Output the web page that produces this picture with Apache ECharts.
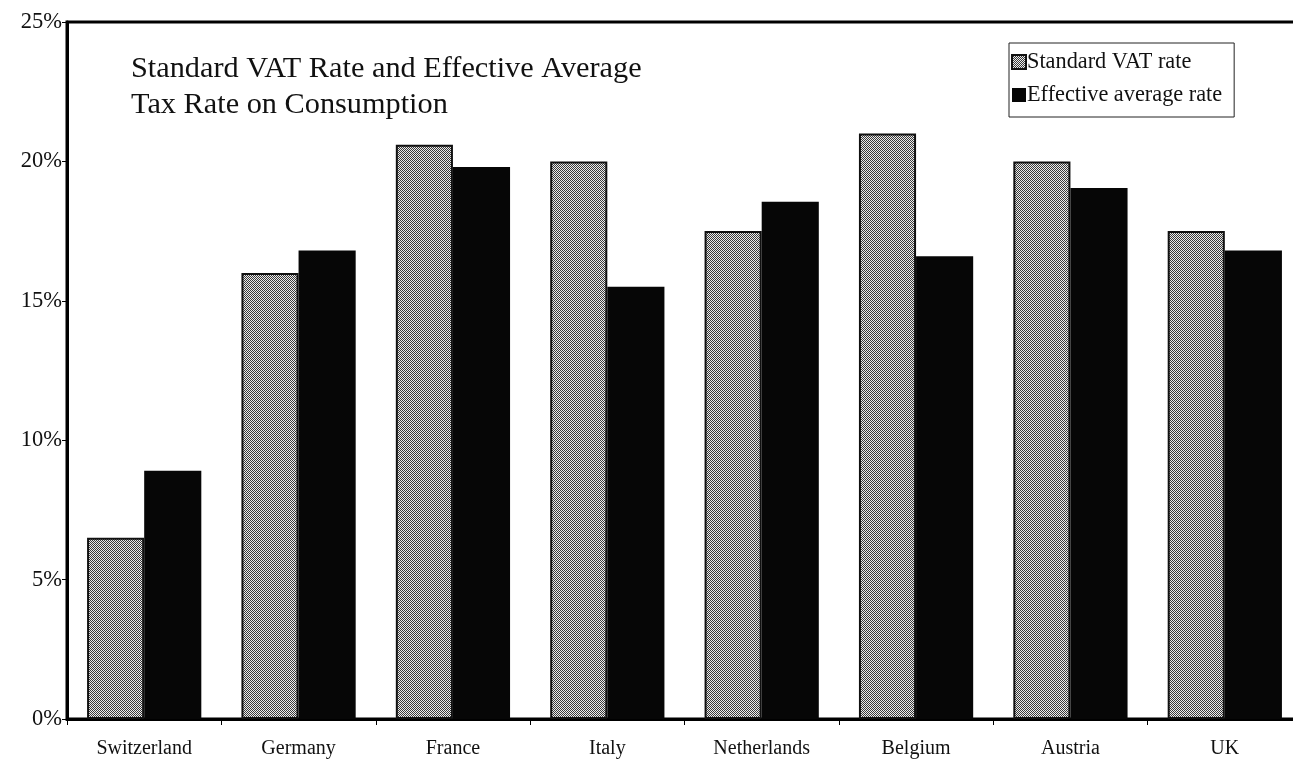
<!DOCTYPE html>
<html>
<head>
<meta charset="utf-8">
<script src="https://cdn.jsdelivr.net/npm/echarts@6/dist/echarts.min.js"></script>
<style>
  html, body { margin: 0; padding: 0; background: #fff; overflow: hidden; }
  /* the plot frame runs a few pixels past the right edge of the window */
  #chart { width: 1302px; height: 763px; }
</style>
</head>
<body>
<div id="chart"></div>
<script>
// Countries along the x axis
const countries = ['Switzerland', 'Germany', 'France', 'Italy', 'Netherlands', 'Belgium', 'Austria', 'UK'];
// Standard VAT rate, percent
const standardRate = [6.5, 16.0, 20.6, 20.0, 17.5, 21.0, 20.0, 17.5];
// Effective average tax rate on consumption, percent
const effectiveRate = [8.9, 16.8, 19.8, 15.5, 18.55, 16.6, 19.05, 16.8];
// Y axis range and step, percent
const yMin = 0, yMax = 25, yStep = 5;

const serif = "'Liberation Serif', 'Times New Roman', serif";

// Checkered grey fill for the standard-rate bars
function checkerPattern() {
  const c = document.createElement('canvas');
  c.width = 2; c.height = 2;
  const g = c.getContext('2d');
  g.fillStyle = '#ececec';
  g.fillRect(0, 0, 2, 2);
  g.fillStyle = '#3a3a3a';
  g.fillRect(0, 0, 1, 1);
  g.fillRect(1, 1, 1, 1);
  return c;
}

const chart = echarts.init(document.getElementById('chart'), null, { renderer: 'canvas' });

chart.setOption({
  backgroundColor: '#ffffff',
  animation: false,
  title: {
    text: 'Standard VAT Rate and Effective Average\nTax Rate on Consumption',
    left: 126,
    top: 46,
    textStyle: {
      fontFamily: serif,
      fontSize: 30.3,
      fontWeight: 'normal',
      color: '#111',
      lineHeight: 36
    }
  },
  legend: {
    orient: 'vertical',
    left: 1009,
    top: 43,
    icon: 'rect',
    itemWidth: 14,
    itemHeight: 14,
    itemGap: 9,
    padding: [7, 12, 10, 2],
    borderColor: '#222',
    borderWidth: 1,
    backgroundColor: '#fff',
    textStyle: { fontFamily: serif, fontSize: 22.3, lineHeight: 24, color: '#111', padding: [0, 0, 0, -4] },
    data: ['Standard VAT rate', 'Effective average rate']
  },
  grid: {
    left: 67,
    top: 22,
    right: 0,
    bottom: 44,
    show: true,
    borderColor: '#000',
    borderWidth: 3,
    backgroundColor: 'transparent'
  },
  xAxis: {
    type: 'category',
    data: countries,
    boundaryGap: true,
    axisLine: { lineStyle: { color: '#000', width: 3 } },
    axisTick: { show: true, length: 6, lineStyle: { color: '#000', width: 1 } },
    axisLabel: { fontFamily: serif, fontSize: 20, color: '#111', margin: 20 }
  },
  yAxis: {
    type: 'value',
    min: yMin,
    max: yMax,
    interval: yStep,
    splitLine: { show: false },
    axisLine: { show: true, lineStyle: { color: '#000', width: 3 } },
    axisTick: { show: true, length: 5, lineStyle: { color: '#000', width: 1 } },
    axisLabel: {
      fontFamily: serif,
      fontSize: 22.5,
      color: '#111',
      margin: 5,
      formatter: '{value}%'
    }
  },
  series: [
    {
      name: 'Standard VAT rate',
      type: 'bar',
      data: standardRate,
      barWidth: '37%',
      barGap: '0%',
      itemStyle: {
        color: { image: checkerPattern(), repeat: 'repeat' },
        borderColor: '#111',
        borderWidth: 2
      }
    },
    {
      name: 'Effective average rate',
      type: 'bar',
      data: effectiveRate,
      barWidth: '37%',
      barGap: '0%',
      itemStyle: { color: '#060606' }
    }
  ]
});
</script>
</body>
</html>
